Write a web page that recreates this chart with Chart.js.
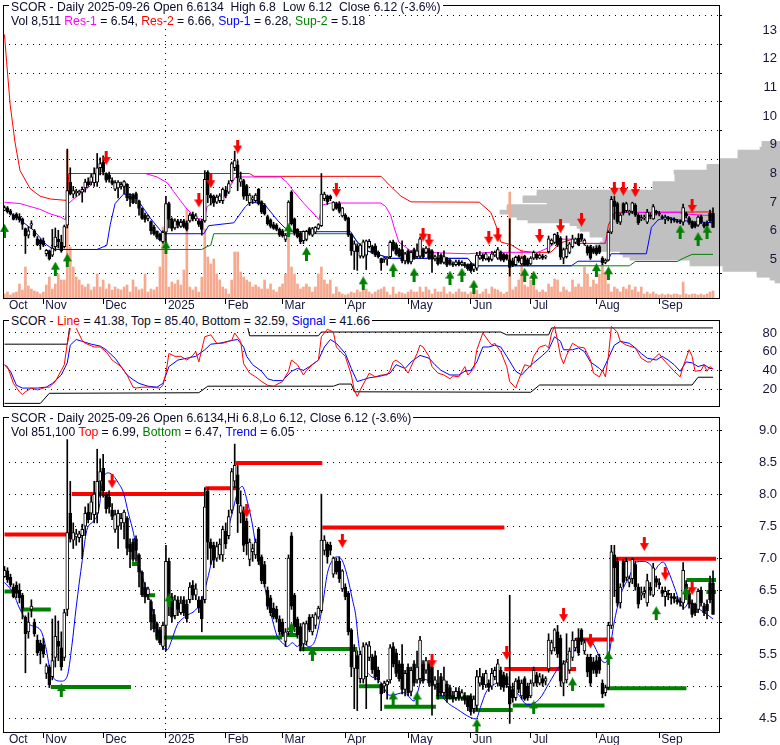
<!DOCTYPE html>
<html>
<head>
<meta charset="utf-8">
<script src="https://cdn.jsdelivr.net/npm/chart.js@4.4.1/dist/chart.umd.min.js"></script>
<style>
body { margin: 0; background: #fff; width: 780px; height: 745px; position: relative; overflow: hidden; font-family: "Liberation Sans", Arial, sans-serif; }
canvas { position: absolute; left: 0; }
.hd { position: absolute; left: 9px; font-size: 12.2px; line-height: 14px; color: #0a0a2a; }
.hd div { display: table; background: #fff; padding: 0 2px; white-space: pre; }
.m { color: #ff00ff; } .r { color: #ff0000; } .b { color: #0000ff; } .g { color: #008000; }
</style>
</head>
<body>
<canvas id="c1" width="780" height="316" style="top:0"></canvas>
<canvas id="c2" width="780" height="94" style="top:316px"></canvas>
<canvas id="c3" width="780" height="335" style="top:410px"></canvas>
<div class="hd" style="top:0"><div>SCOR - Daily 2025-09-26 Open 6.6134  High 6.8  Low 6.12  Close 6.12 (-3.6%)</div><div>Vol 8,511 <span class="m">Res-1</span> = 6.54, <span class="r">Res-2</span> = 6.66, <span class="b">Sup-1</span> = 6.28, <span class="g">Sup-2</span> = 5.18</div></div>
<div class="hd" style="top:314px"><div>SCOR - <span class="r">Line</span> = 41.38, Top = 85.40, Bottom = 32.59, <span class="b">Signal</span> = 41.66</div></div>
<div class="hd" style="top:411px"><div>SCOR - Daily 2025-09-26 Open 6.6134,Hi 6.8,Lo 6.12, Close 6.12 (-3.6%)</div><div>Vol 851,100 <span class="r">Top</span> = 6.99, <span class="g">Bottom</span> = 6.47, <span class="b">Trend</span> = 6.05</div></div>
<script>
// trading days 2024-10-15 .. 2025-09-26, index 0..237
const monthTicks = [0.8, 13, 33, 54, 74, 93, 114, 135, 156, 176, 198, 219];
const monthNames = ['Oct', 'Nov', 'Dec', '2025', 'Feb', 'Mar', 'Apr', 'May', 'Jun', 'Jul', 'Aug', 'Sep'];
const priceTicksTop = [5, 6, 7, 8, 9, 10, 11, 12, 13];
const oscTicks = [20, 40, 60, 80];
const priceTicksBottom = [4.5, 5, 5.5, 6, 6.5, 7, 7.5, 8, 8.5, 9];

const open = [6.71,6.80,6.70,6.55,6.58,6.50,6.42,6.08,5.85,6.20, 6.00,5.72,5.67,5.65,5.20,5.30,5.15,5.45,5.70,5.60,
  5.45,6.20,7.70,7.28,7.33,7.32,7.35,7.50,7.72,7.70, 7.68,7.70,8.20,8.40,8.00,7.95,7.75,7.45,7.50,7.55,
  7.55,7.62,7.22,7.25,7.30,7.05,6.78,6.55,6.43,6.32, 6.12,5.98,5.88,5.62,5.95,6.95,6.40,6.10,6.35,6.15,
  6.35,6.28,6.35,6.58,6.42,6.35,6.35,6.35,8.05,7.25, 7.20,7.00,7.05,7.05,7.42,7.35,7.75,8.20,8.30,7.70,
  7.75,7.58,6.98,7.10,7.05,7.45,7.02,6.90,6.50,6.38, 6.22,6.20,6.05,6.00,5.70,5.85,7.35,6.42,6.05,5.93,
  5.66,5.70,6.08,5.85,5.95,6.08,6.18,7.12,7.22,7.20, 6.75,6.95,6.95,6.52,6.55,6.45,5.88,5.28,5.48,5.12,
  5.11,5.15,5.45,5.45,5.48,5.25,5.03,5.00,5.02,5.10, 5.62,5.52,5.35,5.35,4.95,5.30,4.92,5.35,5.10,5.12,
  5.35,5.25,5.35,5.30,5.02,5.05,5.15,4.90,5.03,4.98, 4.85,4.82,4.92,4.83,4.85,4.82,4.85,4.65,4.70,5.05,
  5.15,5.02,5.05,5.00,5.15,5.05,5.25,5.18,5.15,5.00, 4.95,4.82,5.10,4.85,5.12,5.00,4.85,5.05,5.18,5.05,
  5.12,5.08,5.27,5.55,5.60,5.85,5.75,5.05,5.10,5.25, 5.45,5.60,5.75,5.88,5.55,5.45,5.45,5.38,5.40,5.45,
  5.05,4.90,4.98,5.95,7.05,6.95,6.30,6.95,6.70,6.62, 6.68,6.90,6.55,6.42,6.45,6.30,6.55,6.42,6.68,6.62,
  6.50,6.40,6.45,6.40,6.40,6.35,6.33,6.30,6.60,6.45, 6.30,6.28,6.20,6.50,6.25,6.28,6.62,6.61];
const high = [6.87,6.85,6.75,6.60,6.63,6.60,6.45,6.10,6.15,6.35, 6.05,5.80,5.72,5.75,5.35,5.33,6.05,6.10,6.02,5.85,
  6.20,8.85,8.20,7.55,7.45,7.42,7.53,7.80,7.85,7.98, 8.20,8.70,8.55,8.62,8.02,8.05,7.85,7.75,7.75,7.70,
  7.75,7.65,7.30,7.30,7.35,7.07,6.80,6.62,6.55,6.35, 6.20,6.00,5.92,6.00,7.20,7.00,6.45,6.42,6.40,6.40,
  6.40,6.35,6.62,6.65,6.60,6.40,6.40,8.10,8.10,7.30, 7.25,7.25,7.30,7.50,7.55,7.75,8.40,8.78,8.45,8.05,
  7.80,7.62,7.30,7.22,7.30,7.48,7.05,6.95,6.55,6.42, 6.30,6.25,6.10,6.05,5.90,7.05,7.40,6.45,6.08,5.98,
  6.00,6.02,6.12,6.12,6.15,6.25,8.00,7.35,7.25,7.25, 7.02,7.00,7.02,6.82,6.60,6.48,5.90,5.65,5.55,5.55,
  5.68,5.68,5.70,5.50,5.55,5.30,5.05,5.08,5.10,5.65, 5.68,5.58,5.40,5.65,5.25,5.35,5.30,5.40,5.55,5.78,
  5.40,5.45,5.40,5.35,5.15,5.25,5.20,5.30,5.08,5.02, 4.92,4.98,4.98,4.95,4.90,4.85,4.88,4.85,5.25,5.28,
  5.20,5.25,5.10,5.28,5.30,5.42,5.30,5.22,5.20,6.42, 5.05,5.12,5.15,5.10,5.15,5.05,5.10,5.30,5.22,5.20,
  5.18,5.15,5.82,5.72,5.90,5.95,5.80,5.40,5.82,5.60, 5.85,5.75,5.90,5.90,5.72,5.50,5.50,5.45,5.48,5.50,
  5.10,5.02,6.00,7.20,7.20,7.00,6.60,6.98,7.00,6.72, 7.00,6.95,6.60,6.55,6.55,6.75,6.62,6.92,6.72,6.68,
  6.55,6.55,6.50,6.45,6.45,6.40,6.38,6.93,6.65,6.50, 6.35,6.30,6.52,6.55,6.30,6.35,6.72,6.80];
const low = [6.70,6.62,6.55,6.38,6.38,6.30,6.05,5.21,5.75,6.08, 5.78,5.48,5.35,5.45,5.12,4.98,5.10,5.30,5.40,5.25,
  5.40,6.10,7.25,7.15,7.20,7.25,7.00,7.35,7.55,7.60, 7.55,7.55,7.95,7.95,7.70,7.70,7.60,7.40,7.15,7.45,
  7.30,7.05,6.85,6.95,6.95,6.55,6.40,6.30,6.35,5.88, 5.85,5.72,5.65,5.57,5.55,6.10,6.00,6.05,6.10,6.12,
  6.10,6.00,6.30,6.35,6.35,6.15,5.85,6.30,6.98,6.90, 6.85,6.95,6.98,6.95,7.15,7.30,7.70,8.10,7.40,7.55,
  7.10,7.05,6.88,6.95,7.00,6.90,6.60,6.55,6.20,6.10, 6.05,6.00,5.80,5.78,5.62,5.80,6.20,5.85,5.75,5.55,
  5.55,5.65,5.85,5.80,5.90,6.05,6.15,7.05,6.92,7.05, 6.70,6.75,6.62,6.48,6.35,5.80,5.15,4.65,4.62,5.05,
  5.05,4.65,5.40,5.20,5.10,5.05,4.62,4.90,4.80,5.05, 5.30,5.15,5.08,4.88,4.85,4.85,4.85,5.00,5.05,5.05,
  5.05,5.20,5.00,4.55,4.95,4.80,4.85,4.85,4.75,4.80, 4.75,4.78,4.78,4.78,4.72,4.62,4.55,4.58,4.62,5.00,
  4.95,4.98,4.92,4.95,5.10,5.00,4.95,4.92,4.98,4.42, 4.75,4.78,4.90,4.80,4.78,4.78,4.82,5.00,5.00,5.02,
  5.00,5.02,5.22,5.50,5.55,5.45,5.00,4.85,5.05,5.20, 5.40,5.55,5.48,5.65,5.50,5.15,5.00,5.20,5.15,5.20,
  4.82,4.85,4.95,5.90,6.40,6.25,6.22,6.55,6.65,6.55, 6.60,6.50,6.22,6.35,6.38,6.25,6.42,6.40,6.55,6.52,
  6.40,6.25,6.35,6.28,6.30,6.28,6.25,6.20,6.45,6.22, 6.08,6.10,6.15,6.25,6.10,6.05,6.30,6.12];
const close = [6.81,6.66,6.58,6.40,6.45,6.38,6.22,5.82,6.00,6.25, 5.82,5.52,5.55,5.50,5.32,5.02,5.40,5.78,5.62,5.30,
  6.15,7.40,7.30,7.40,7.38,7.38,7.45,7.70,7.60,7.88, 8.00,8.20,8.35,8.05,7.77,7.80,7.65,7.68,7.70,7.62,
  7.72,7.15,7.10,6.98,7.12,6.78,6.43,6.40,6.52,6.00, 5.90,5.78,5.68,5.95,6.95,6.40,6.08,6.35,6.20,6.30,
  6.15,6.05,6.55,6.42,6.52,6.22,6.05,7.80,7.25,7.15, 6.97,7.18,7.22,7.45,7.22,7.65,8.35,8.45,7.85,7.82,
  7.20,7.22,7.25,7.15,7.25,6.95,6.65,6.60,6.25,6.15, 6.08,6.05,5.85,5.82,5.85,7.00,6.25,5.93,5.80,5.62,
  5.98,5.98,5.88,6.08,6.12,6.22,7.28,7.28,7.02,7.12, 7.00,6.78,6.68,6.80,6.40,5.85,5.30,5.55,5.27,5.50,
  5.62,5.65,5.63,5.26,5.15,5.10,4.88,5.05,5.08,5.60, 5.35,5.20,5.12,4.95,5.20,4.90,5.25,5.05,5.30,5.72,
  5.08,5.40,5.05,5.00,5.10,4.85,4.90,5.10,4.80,4.85, 4.80,4.92,4.82,4.90,4.78,4.68,4.60,4.80,5.15,5.15,
  5.02,5.20,4.98,5.20,5.25,5.35,5.00,4.98,5.02,4.72, 4.82,5.08,4.95,5.05,4.80,4.82,5.05,5.25,5.05,5.15,
  5.05,5.12,5.72,5.68,5.88,5.50,5.08,5.35,5.38,5.55, 5.72,5.72,5.52,5.70,5.68,5.22,5.05,5.25,5.20,5.25,
  4.88,4.98,5.95,7.10,6.85,6.30,6.55,6.62,6.95,6.68, 6.98,6.55,6.28,6.46,6.48,6.65,6.50,6.85,6.62,6.58,
  6.45,6.48,6.42,6.38,6.36,6.32,6.30,6.81,6.52,6.28, 6.12,6.15,6.48,6.30,6.15,6.18,6.35,6.12];
// volume, thousands of shares
const volume = [480,720,360,600,720,1680,960,3720,1440,1080, 840,720,480,720,1560,2520,1080,1680,2880,2160,
  2160,17760,6120,3720,2520,2160,1560,1320,1680,960, 1320,2880,1320,2160,1080,1680,960,1320,1080,960,
  1320,1560,720,2160,1320,960,1080,2880,720,1080, 960,1320,3720,8520,5280,1320,1920,1680,2160,1560,
  3360,10680,1320,960,1320,720,2520,8280,4920,4080, 4680,2880,2160,1320,1080,480,2160,5520,5520,3120,
  2520,2160,1920,1320,1560,1320,1080,2160,1080,1680, 960,720,1320,1680,2880,8880,3720,2880,1680,1080,
  1320,1680,1320,720,1320,2880,3720,2160,1680,2160, 480,1320,720,480,360,480,720,600,960,720,
  1320,1080,720,480,720,960,1080,1320,720,360, 1320,480,720,600,480,720,960,720,720,1320,
  720,1320,960,480,1080,720,720,1320,480,720, 480,720,1080,720,720,480,720,1680,960,480,
  720,1080,480,1320,1080,960,720,480,720,12720, 960,1320,2160,5760,1560,1320,2160,1560,960,720,
  960,720,1680,1320,2280,2160,720,1320,960,720, 2160,1320,1680,1320,3720,2880,1320,2160,1680,2880,
  4080,3120,1680,720,1320,1080,720,1320,1080,1560, 960,1320,720,1320,480,720,480,720,480,360,
  480,360,480,360,480,480,360,1920,480,360, 480,480,360,480,360,480,720,851];

// volume at price (top panel, grey), length in pixels from the right edge
const profilePrice = [4.25,4.35,4.45,4.55,4.65,4.75,4.85,4.95,5.05,5.15,5.25,5.35,5.45,5.55,5.65,5.75,5.85,5.95,6.05,6.15,
  6.25,6.35,6.45,6.55,6.65,6.75,6.85,6.95,7.05,7.15,7.25,7.35,7.45,7.55,7.65,7.75,7.85,7.95,8.05,8.15,8.25,8.35,8.45,8.55,8.65,8.75,8.85,8.95,9.05];
const profileVol = [5,10,23,23,57,57,90,90,150,157,160,185,185,180,177,177,190,190,200,203,
  210,252,263,270,280,273,273,233,257,257,243,243,127,127,127,105,105,105,106,73,73,60,60,42,42,42,20,18,18];

// top panel support / resistance lines [day, price]
const res2 = [[0,12.85],[0.7,11.9],[1.9,10.4],[3.5,9.1],[5.2,8.1],[8.6,7.47],[11.9,7.21],[15.3,7.11],[21,7.06],[21.5,8.0],[82,8.0],[83.5,7.9],
  [126,7.9],[128.7,7.6],[132.6,7.21],[136,7.01],[158.8,7.0],[162.7,6.64],[165,6.02],[166,5.61],[169.5,5.51],[172.8,5.30],[177,5.25],
  [182.7,5.25],[186,5.58],[190,5.71],[195,5.56],[201,5.56],[202,6.2],[204,6.64],[237,6.66]];
const res1 = [[0,7.0],[5.2,6.95],[8.6,6.85],[11.9,6.75],[15.3,6.59],[18.6,6.49],[20.3,6.39],[21.4,6.95],[23.1,7.11],[26.4,7.37],[28.7,7.57],
  [30.3,7.88],[32,8.0],[47.1,8.0],[51,7.88],[54.4,7.68],[56.6,7.37],[58.8,7.06],[61.1,6.75],[64.4,6.44],[66.7,6.39],[67.8,6.85],[70,7.0],
  [73.4,7.16],[75.6,7.57],[77.3,7.88],[92.4,7.88],[94.6,7.68],[96.8,7.37],[100.2,6.95],[103.5,6.59],[105.2,6.39],[106.3,6.9],[109.1,6.97],
  [125.9,6.97],[127.5,6.85],[129.2,6.54],[130.3,6.13],[131.9,5.61],[135.9,5.30],[140.4,5.25],[154.9,5.2],[162.7,5.25],[178.4,5.25],
  [181.7,5.40],[184,5.56],[185.1,5.71],[189.6,5.71],[190.7,5.56],[200.7,5.56],[201.8,5.82],[202.9,6.23],[204,6.59],[207.4,6.64],
  [225.3,6.64],[227.5,6.59],[234.2,6.54],[237,6.54]];
const sup1 = [[0,6.8],[1.8,6.64],[5.2,6.38],[9.7,6.02],[14.1,5.51],[16.4,5.35],[30.9,5.35],[34.2,5.49],[35.4,6.23],[37,6.95],[39.8,7.28],
  [43.2,7.26],[45.4,6.95],[48.8,6.44],[52.1,6.02],[53.2,5.9],[66.7,5.9],[68.3,6.18],[76.7,6.28],[80.6,6.85],[82.3,7.0],[86.8,6.95],
  [91.2,6.38],[93.5,6.13],[95.7,5.97],[115.8,5.97],[118,5.61],[121.4,5.3],[128.1,5.07],[129.2,5.04],[154.9,5.04],[157.1,4.78],
  [189.6,4.78],[191.8,4.94],[201.8,4.94],[202.9,5.2],[214.7,5.2],[216.4,6.12],[218.6,6.38],[221.9,6.49],[225.3,6.38],[229.8,6.33],[237,6.28]];
const sup2 = [[16,5.35],[66,5.35],[67.8,5.45],[69,5.5],[70,5.9],[116,5.9],[118,5.61],[121.4,5.3],[128,5.07],[129,5.04],[155,5.04],
  [157,4.78],[209,4.78],[211,4.93],[225,4.93],[227,5.04],[230,5.18],[237,5.18]];
const topDown = [[34,8.54],[65,7.06],[69,7.73],[78,8.94],[111,7.42],[140,5.87],[142,5.66],[162,5.76],[165,5.84],[179,5.82],[186,6.16],
  [193,6.39],[204,7.47],[207,7.47],[211,7.42],[230,6.87]];
const topUp = [[0,6.0],[17,4.68],[21,4.97],[54,5.42],[95,6.02],[101,5.2],[120,4.17],[130,4.63],[137,4.47],[149,4.37],[153,4.47],
  [157,4.05],[174,4.47],[177,4.37],[198,4.63],[202,4.52],[226,5.97],[232,5.71],[235,5.97]];

// oscillator panel
const oscLine = [[0,46],[1,44],[3,26],[5,17],[6,14],[7,17],[9,21],[11,19],[12,20],[14,22],[15,22],[17,28],[19,40],[20,46],[21,69],[22,85],
  [23,90],[24,85],[26,72],[27,69],[30,65],[32,65],[34,60],[36,51],[39,44],[41,35],[43,22],[44,21],[46,22],[49,22],[52,21],[53,24],[54,37],
  [55,58],[57,55],[59,55],[61,51],[63,56],[64,60],[65,49],[67,76],[69,78],[71,69],[73,69],[76,72],[77,80],[79,71],[80,47],[82,37],[84,33],
  [86,28],[88,24],[90,23],[93,28],[95,39],[96,51],[98,46],[100,35],[101,40],[103,46],[105,51],[106,76],[108,84],[110,81],[111,65],[114,55],
  [116,35],[117,19],[118,12],[119,19],[121,31],[122,37],[124,33],[126,35],[128,35],[129,40],[130,49],[131,51],[133,46],[135,37],[138,58],
  [139,67],[140,65],[142,55],[143,44],[145,37],[147,35],[149,31],[150,34],[152,33],[153,39],[154,44],[155,35],[157,42],[158,62],[160,80],
  [162,71],[163,67],[164,69],[166,60],[168,44],[169,28],[171,21],[172,30],[174,46],[176,44],[177,55],[179,65],[181,67],[182,64],[183,80],
  [184,87],[185,72],[186,55],[187,47],[188,56],[190,69],[192,65],[194,64],[196,51],[197,37],[199,33],[200,40],[201,33],[202,55],[203,87],
  [205,81],[206,71],[208,67],[211,64],[213,53],[215,49],[216,49],[219,58],[220,53],[222,46],[224,39],[226,33],[227,44],[229,62],[230,55],
  [231,39],[233,40],[234,46],[235,39],[236,44],[237,41.38]];
const oscSignal = [[0,46],[2,39],[4,24],[6,21],[9,21],[11,21],[14,22],[16,26],[19,35],[21,48],[22,67],[24,73],[26,71],[29,68],[32,66],[34,62],
  [37,53],[39,44],[41,35],[43,30],[45,26],[48,23],[51,22],[53,26],[55,44],[58,51],[61,53],[64,55],[67,62],[69,68],[72,69],[76,72],[78,73],
  [80,65],[81,55],[83,46],[86,39],[88,31],[90,29],[93,29],[96,39],[98,42],[100,40],[102,44],[105,51],[107,65],[109,73],[111,69],[114,58],
  [116,42],[118,28],[120,30],[122,32],[126,34],[129,37],[131,46],[134,42],[136,49],[139,56],[142,53],[144,46],[146,40],[149,35],[152,35],
  [154,39],[156,40],[158,49],[160,65],[162,65],[164,67],[166,65],[168,55],[171,39],[173,35],[175,42],[177,48],[180,56],[182,62],[184,76],
  [186,71],[187,62],[190,62],[192,64],[194,60],[196,49],[199,42],[200,39],[202,53],[204,67],[206,71],[209,69],[211,64],[213,58],[215,53],
  [218,51],[220,55],[222,51],[224,46],[226,39],[228,49],[230,48],[232,44],[234,46],[236,42],[237,41.66]];
const oscTop = [[0,68],[21,68],[22,91],[81,91],[82,77],[105,77],[106,81],[166,81],[168,78],[182,78],[183,85.4],[237,85.4]];
const oscBottom = [[0,4.6],[12,4.6],[15,15.4],[65,16],[68,23],[110,23],[112,25.3],[116,25.3],[117,17],[176,16.5],[179,24.3],[230,24.3],[232,32.59],[237,32.59]];

// lower panel: trend line, top (red) and bottom (green) levels [from, to, price]
const trend = [[0,6.62],[3,6.45],[5,6.22],[8.5,5.96],[12,5.88],[14,5.57],[15,5.31],[17,5.10],[19,5.08],[21,5.16],[22.5,5.62],[24,6.24],
  [26,6.96],[27.5,7.43],[29.8,7.58],[31.5,7.74],[33,8.25],[34.8,8.33],[36.5,8.28],[38,8.18],[39.8,8.02],[41.5,7.69],[43.2,7.38],[44.9,6.91],
  [46.5,6.65],[48.2,6.40],[49.9,6.14],[51.6,5.83],[53.2,5.60],[54.4,5.57],[56,5.73],[57.7,5.95],[60.5,6.09],[63.9,6.19],[66,6.35],[67.8,6.65],
  [69.4,6.96],[71.6,7.17],[73.9,7.32],[76.1,7.69],[77.8,8.0],[79.5,8.12],[81.2,7.89],[82.9,7.53],[84.5,7.07],[86.2,6.76],[87.9,6.35],
  [89.6,6.04],[91.2,5.78],[92.9,5.68],[94.6,5.62],[96.3,5.68],[97.9,5.62],[99.6,5.68],[101.8,5.62],[104,5.73],[106.3,6.24],[108,6.76],
  [109.6,6.96],[111.3,7.02],[113,6.96],[114.7,6.71],[116.4,6.35],[117.5,6.10],[118.6,5.62],[120.3,5.31],[122.5,5.16],[124.7,5.11],
  [126.4,5.03],[128.1,4.88],[129.2,4.86],[133.7,4.90],[137,4.77],[139.8,5.11],[143.7,5.03],[147.6,4.77],[151.5,4.64],[156,4.51],
  [157.7,4.49],[159.4,4.70],[161,4.90],[162.7,5.0],[167.2,5.06],[171.7,4.88],[175,4.71],[178.9,4.80],[182.3,5.06],[185.6,5.31],
  [189.5,5.47],[193.4,5.73],[196.2,5.70],[200.7,5.37],[201.8,5.42],[204.1,6.04],[206.3,6.45],[209.1,6.72],[211.3,6.94],[213.6,6.95],
  [215.8,6.91],[217.5,6.81],[218.6,6.88],[220.3,6.94],[222,6.80],[224.2,6.53],[225.8,6.32],[227.3,6.22],[229.2,6.32],[231.9,6.22],
  [235.3,6.11],[237,6.05]];
const topLevels = [[0,22.5,7.37],[22.5,67.2,8.0],[67.2,77.8,8.09],[77.3,106.3,8.485],[106.3,167.2,7.48],[167.2,191.2,5.27],[191.2,203.8,5.73],[203.8,238,6.99]];
const bottomLevels = [[0,3,6.48],[5.4,15.5,6.20],[15.5,42.3,4.99],[42.6,45.4,6.91],[46.5,50.4,6.42],[50.4,92.9,5.76],[92.3,97.9,5.80],
  [98.5,118,5.58],[118.6,126.4,5.0],[127,144.3,4.68],[144.3,156,4.83],[157.1,170,4.63],[170,200.7,4.70],[201.3,228.1,4.97],[228.1,238,6.66],[234.8,238,6.47]];
const lowDown = [[36,8.2],[81,7.74],[113,7.27],[143,5.39],[168,5.52],[187,6.11],[196,5.70],[214,7.22],[221,6.76],[230,6.53]];
const lowUp = [[19,4.94],[55,6.34],[96,5.89],[103,5.51],[130,4.81],[138,4.81],[158,4.39],[177,4.67],[190,5.03],[202,5.44],[218,6.14],[228,6.45]];

Chart.defaults.font.family = '"Liberation Sans", Arial, sans-serif';
Chart.defaults.color = '#15153a';

const txt = '#15153a';
const X_MIN = -0.5, X_MAX = 239, AREA_LEFT = 3, AREA_W = 716;
const dayPerPx = (X_MAX - X_MIN) / AREA_W;
const profileBase = X_MIN + (780 - AREA_LEFT) * dayPerPx;   // right edge of the canvas, in day units

const pts = arr => arr.map(p => ({x: p[0], y: p[1]}));
function levels(arr) {
  const out = [];
  arr.forEach(s => { out.push({x: s[0], y: s[2]}, {x: s[1], y: s[2]}, {x: s[1], y: null}); });
  return out;
}
function arrow(color, up) {
  const c = document.createElement('canvas');
  c.width = 9; c.height = 14;
  const g = c.getContext('2d');
  g.fillStyle = color;
  g.save();
  if (up) { g.translate(0, 14); g.scale(1, -1); }
  g.fillRect(3, 0, 3, 7);
  g.beginPath(); g.moveTo(0, 6); g.lineTo(9, 6); g.lineTo(4.5, 14); g.closePath(); g.fill();
  g.restore();
  return c;
}
const downArrow = arrow('#ff0000', false);
const upArrow = arrow('#008000', true);

const frame = {
  id: 'frame',
  afterDatasetsDraw(chart) {
    const a = chart.chartArea, c = chart.ctx;
    c.save();
    c.strokeStyle = '#000'; c.lineWidth = 1;
    c.strokeRect(a.left + 0.5, a.top + 0.5, a.right - a.left, a.bottom - a.top);
    c.restore();
  }
};
const noPad = ax => { ax.paddingTop = 0; ax.paddingBottom = 0; ax.paddingLeft = 0; ax.paddingRight = 0; };

function xAxis(h, showLabels) {
  return {
    type: 'linear', min: X_MIN, max: X_MAX, offset: false,
    afterBuildTicks: ax => { ax.ticks = monthTicks.map(v => ({value: v})); },
    afterFit: ax => { ax.height = h; noPad(ax); },
    ticks: { display: showLabels, autoSkip: false, maxRotation: 0, align: 'start', labelOffset: 2, padding: -6, font: {size: 12}, color: txt,
      callback: (v, i) => monthNames[i] },
    grid: { offset: false, tickLength: showLabels ? 6 : 0, tickBorderDash: [],
      color: c => (c.tick && c.tick.value === 54) ? '#000' : 'rgba(0,0,0,0)',
      tickColor: c => c.index === 0 ? 'rgba(0,0,0,0)' : '#000' },
    border: { display: false, dash: [1, 5] }
  };
}
function yAxis(min, max, tickList, fmt) {
  return {
    type: 'linear', position: 'right', min: min, max: max,
    afterBuildTicks: ax => { ax.ticks = tickList.map(v => ({value: v})); },
    afterFit: ax => { ax.width = 58; noPad(ax); },
    ticks: { crossAlign: 'far', padding: 4, font: {size: 13}, color: txt, z: 1, callback: fmt },
    grid: { color: '#000', tickLength: 3, tickBorderDash: [] },
    border: { display: false, dash: [1, 5] }
  };
}
function candles() {
  return [
    { type: 'bar', data: high.map((h, i) => ({x: i, y: [low[i], h]})), backgroundColor: '#000',
      barThickness: 1, grouped: false, order: 3 },
    { type: 'bar', data: open.map((o, i) => ({x: i, y: [o, close[i]]})),
      backgroundColor: open.map((o, i) => close[i] >= o ? '#fff' : '#000'),
      borderColor: '#000', borderWidth: 1, borderSkipped: false, barThickness: 3, grouped: false, order: 2 }
  ];
}
function line(data, color, width, order) {
  return { type: 'line', data: pts(data), borderColor: color, borderWidth: width, pointRadius: 0, fill: false, order: order };
}
function arrows(data, img) {
  return { type: 'line', data: pts(data), showLine: false, pointStyle: img, pointRadius: 6, clip: false, order: 1 };
}
const common = {
  responsive: false, animation: false, events: [], devicePixelRatio: 1,
  plugins: { legend: { display: false }, tooltip: { enabled: false } }
};

// top panel
new Chart(document.getElementById('c1'), {
  type: 'bar',
  data: { datasets: [
    { type: 'bar', indexAxis: 'y', xAxisID: 'x', yAxisID: 'y',
      data: profilePrice.map((p, k) => ({y: p, x: [profileBase, profileBase - profileVol[k] * dayPerPx]})),
      backgroundColor: '#c0c0c0', barThickness: 4, grouped: false, clip: false, order: 10 },
    { type: 'bar', yAxisID: 'yv', data: volume.map((v, i) => ({x: i, y: v})), backgroundColor: '#f6a98e',
      barThickness: 2, grouped: false, order: 9 },
    line(sup2, '#008000', 1, 8),
    line(res2, '#ff0000', 1, 7),
    line(res1, '#ff00ff', 1, 6),
    line(sup1, '#0000ff', 1, 5),
    ...candles(),
    arrows(topDown, downArrow),
    arrows(topUp, upArrow)
  ] },
  options: Object.assign({}, common, {
    layout: { padding: { top: 5, left: 3, right: 3, bottom: 0 }, autoPadding: false },
    scales: {
      x: xAxis(18, true),
      y: yAxis(4.225, 13.31, priceTicksTop, v => String(v)),
      yv: { type: 'linear', display: false, min: 0, max: 35160 }
    }
  }),
  plugins: [frame]
});

// oscillator panel
new Chart(document.getElementById('c2'), {
  type: 'line',
  data: { datasets: [
    line(oscTop, '#000', 1, 4),
    line(oscBottom, '#000', 1, 4),
    line(oscSignal, '#0000ff', 1, 3),
    line(oscLine, '#ff0000', 1, 2)
  ] },
  options: Object.assign({}, common, {
    layout: { padding: { top: 4, left: 3, right: 3, bottom: 4 }, autoPadding: false },
    scales: {
      x: xAxis(0, false),
      y: yAxis(1.8, 93.9, oscTicks, v => String(v))
    }
  }),
  plugins: [frame]
});

// lower price panel
new Chart(document.getElementById('c3'), {
  type: 'bar',
  data: { datasets: [
    Object.assign(line([], '#ff0000', 4, 8), { data: levels(topLevels) }),
    Object.assign(line([], '#008000', 4, 8), { data: levels(bottomLevels) }),
    Object.assign(line(trend, '#0000ff', 1, 5), { cubicInterpolationMode: 'monotone' }),
    ...candles(),
    arrows(lowDown, downArrow),
    arrows(lowUp, upArrow)
  ] },
  options: Object.assign({}, common, {
    layout: { padding: { top: 7, left: 3, right: 3, bottom: 0 }, autoPadding: false },
    scales: {
      x: xAxis(13, true),
      y: yAxis(4.286, 9.203, priceTicksBottom, v => v.toFixed(1))
    }
  }),
  plugins: [frame]
});
</script>
</body>
</html>
